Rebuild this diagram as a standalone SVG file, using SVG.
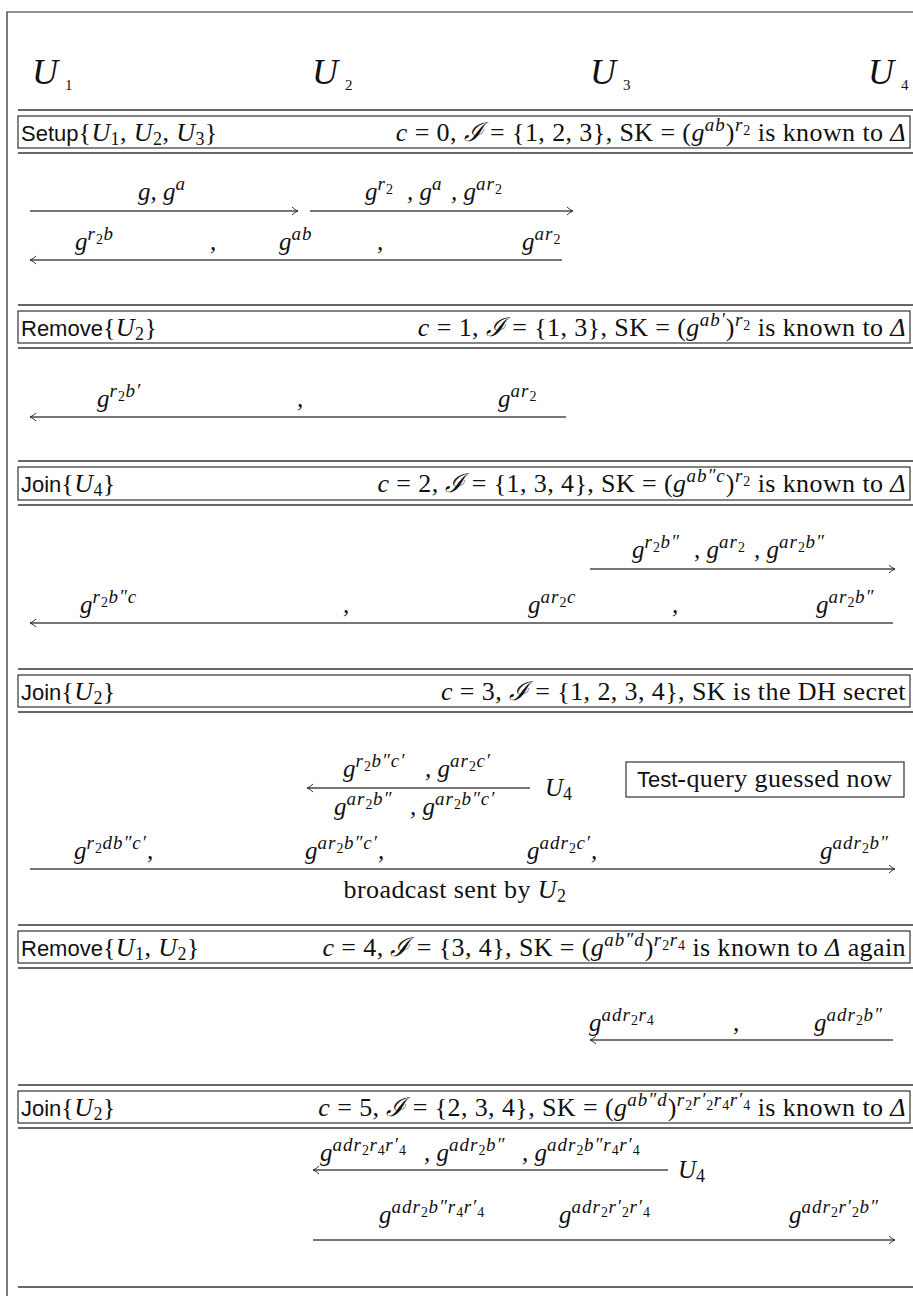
<svg xmlns="http://www.w3.org/2000/svg" width="913" height="1296" viewBox="0 0 913 1296">
<style>
.bg{fill:#fff}
.frame{fill:none;stroke:#222;stroke-width:1.2}
.rule{stroke:#333;stroke-width:1.4}
.box{fill:none;stroke:#333;stroke-width:1.2}
.arr{stroke:#4a4a4a;stroke-width:1.6;fill:none}
text{font-family:"Liberation Serif","DejaVu Serif",serif;font-size:25px;fill:#111}
.m{font-style:italic}
.i{font-style:italic}
.bn{font-size:26px;letter-spacing:0.4px}
.sf{font-family:"Liberation Sans","DejaVu Sans",sans-serif;font-style:normal;font-size:22px;letter-spacing:0}
.s{font-size:19px;letter-spacing:1px}
.ss{font-size:14px;font-style:normal;letter-spacing:0.5px}
.sd{font-size:18px;font-style:normal}
.big{font-size:36px;font-style:italic}
.bsub{font-size:15px;font-style:normal}
.r{text-anchor:end}
.c{text-anchor:middle}
</style>
<defs>
<marker id="ah" markerWidth="10" markerHeight="10" refX="7" refY="5" orient="auto-start-reverse" markerUnits="userSpaceOnUse">
<path d="M1,1 Q4,4 7,5 Q4,6 1,9" fill="none" stroke="#333" stroke-width="1"/>
</marker>
</defs>
<rect class="bg" x="0" y="0" width="913" height="1296"/>
<path class="frame" d="M7,1296 V12 H913"/>

<g id="participants">
<text class="big" x="32" y="84">U<tspan class="bsub" dx="7" dy="6">1</tspan></text>
<text class="big" x="312" y="84">U<tspan class="bsub" dx="7" dy="6">2</tspan></text>
<text class="big" x="590" y="84">U<tspan class="bsub" dx="7" dy="6">3</tspan></text>
<text class="big" x="868" y="84">U<tspan class="bsub" dx="7" dy="6">4</tspan></text>
</g>

<g id="banner-setup">
<line class="rule" x1="18" y1="110" x2="913" y2="110"/>
<rect class="box" x="18" y="116" width="892" height="32"/>
<line class="rule" x1="18" y1="153" x2="913" y2="153"/>
<text class="bn" x="21" y="141"><tspan class="sf">Setup</tspan>{<tspan class="i">U</tspan><tspan class="sd" dy="4">1</tspan><tspan dy="-4">, </tspan><tspan class="i">U</tspan><tspan class="sd" dy="4">2</tspan><tspan dy="-4">, </tspan><tspan class="i">U</tspan><tspan class="sd" dy="4">3</tspan><tspan dy="-4">}</tspan></text>
<text class="bn r" x="906" y="141"><tspan class="i">c</tspan> = 0, <tspan class="i">ℐ</tspan> = {1, 2, 3}, SK = (<tspan class="i">g</tspan><tspan class="s i" dy="-10">ab</tspan><tspan dy="10">)</tspan><tspan class="s i" dy="-10">r</tspan><tspan class="ss" dy="4">2</tspan><tspan dy="6"> is known to </tspan><tspan class="i">Δ</tspan></text>
</g>

<g id="banner-remove1">
<line class="rule" x1="18" y1="305" x2="913" y2="305"/>
<rect class="box" x="18" y="311" width="892" height="32"/>
<line class="rule" x1="18" y1="348" x2="913" y2="348"/>
<text class="bn" x="21" y="336"><tspan class="sf">Remove</tspan>{<tspan class="i">U</tspan><tspan class="sd" dy="4">2</tspan><tspan dy="-4">}</tspan></text>
<text class="bn r" x="906" y="336"><tspan class="i">c</tspan> = 1, <tspan class="i">ℐ</tspan> = {1, 3}, SK = (<tspan class="i">g</tspan><tspan class="s i" dy="-10">ab′</tspan><tspan dy="10">)</tspan><tspan class="s i" dy="-10">r</tspan><tspan class="ss" dy="4">2</tspan><tspan dy="6"> is known to </tspan><tspan class="i">Δ</tspan></text>
</g>

<g id="banner-join4">
<line class="rule" x1="18" y1="461" x2="913" y2="461"/>
<rect class="box" x="18" y="467" width="892" height="33"/>
<line class="rule" x1="18" y1="505" x2="913" y2="505"/>
<text class="bn" x="21" y="492"><tspan class="sf">Join</tspan>{<tspan class="i">U</tspan><tspan class="sd" dy="4">4</tspan><tspan dy="-4">}</tspan></text>
<text class="bn r" x="906" y="492"><tspan class="i">c</tspan> = 2, <tspan class="i">ℐ</tspan> = {1, 3, 4}, SK = (<tspan class="i">g</tspan><tspan class="s i" dy="-10">ab″c</tspan><tspan dy="10">)</tspan><tspan class="s i" dy="-10">r</tspan><tspan class="ss" dy="4">2</tspan><tspan dy="6"> is known to </tspan><tspan class="i">Δ</tspan></text>
</g>

<g id="banner-join2a">
<line class="rule" x1="18" y1="669" x2="913" y2="669"/>
<rect class="box" x="18" y="675" width="892" height="32"/>
<line class="rule" x1="18" y1="712" x2="913" y2="712"/>
<text class="bn" x="21" y="700"><tspan class="sf">Join</tspan>{<tspan class="i">U</tspan><tspan class="sd" dy="4">2</tspan><tspan dy="-4">}</tspan></text>
<text class="bn r" x="906" y="700"><tspan class="i">c</tspan> = 3, <tspan class="i">ℐ</tspan> = {1, 2, 3, 4}, SK is the DH secret</text>
</g>

<g id="banner-remove12">
<line class="rule" x1="18" y1="925" x2="913" y2="925"/>
<rect class="box" x="18" y="931" width="892" height="32"/>
<line class="rule" x1="18" y1="968" x2="913" y2="968"/>
<text class="bn" x="21" y="956"><tspan class="sf">Remove</tspan>{<tspan class="i">U</tspan><tspan class="sd" dy="4">1</tspan><tspan dy="-4">, </tspan><tspan class="i">U</tspan><tspan class="sd" dy="4">2</tspan><tspan dy="-4">}</tspan></text>
<text class="bn r" x="906" y="956"><tspan class="i">c</tspan> = 4, <tspan class="i">ℐ</tspan> = {3, 4}, SK = (<tspan class="i">g</tspan><tspan class="s i" dy="-10">ab″d</tspan><tspan dy="10">)</tspan><tspan class="s i" dy="-10">r</tspan><tspan class="ss" dy="4">2</tspan><tspan class="s i" dy="-4">r</tspan><tspan class="ss" dy="4">4</tspan><tspan dy="6"> is known to </tspan><tspan class="i">Δ</tspan> again</text>
</g>

<g id="banner-join2b">
<line class="rule" x1="18" y1="1085" x2="913" y2="1085"/>
<rect class="box" x="18" y="1091" width="892" height="32"/>
<line class="rule" x1="18" y1="1128" x2="913" y2="1128"/>
<text class="bn" x="21" y="1116"><tspan class="sf">Join</tspan>{<tspan class="i">U</tspan><tspan class="sd" dy="4">2</tspan><tspan dy="-4">}</tspan></text>
<text class="bn r" x="906" y="1116"><tspan class="i">c</tspan> = 5, <tspan class="i">ℐ</tspan> = {2, 3, 4}, SK = (<tspan class="i">g</tspan><tspan class="s i" dy="-10">ab″d</tspan><tspan dy="10">)</tspan><tspan class="s i" dy="-10">r</tspan><tspan class="ss" dy="4">2</tspan><tspan class="s i" dy="-4">r′</tspan><tspan class="ss" dy="4">2</tspan><tspan class="s i" dy="-4">r</tspan><tspan class="ss" dy="4">4</tspan><tspan class="s i" dy="-4">r′</tspan><tspan class="ss" dy="4">4</tspan><tspan dy="6"> is known to </tspan><tspan class="i">Δ</tspan></text>
</g>

<line class="rule" x1="18" y1="1287" x2="913" y2="1287"/>

<g id="connectors">
<line class="arr" x1="30" y1="211" x2="298" y2="211" marker-end="url(#ah)"/>
<line class="arr" x1="310" y1="211" x2="573" y2="211" marker-end="url(#ah)"/>
<line class="arr" x1="562" y1="260" x2="30" y2="260" marker-end="url(#ah)"/>
<line class="arr" x1="566" y1="417" x2="30" y2="417" marker-end="url(#ah)"/>
<line class="arr" x1="590" y1="569" x2="895" y2="569" marker-end="url(#ah)"/>
<line class="arr" x1="893" y1="623" x2="30" y2="623" marker-end="url(#ah)"/>
<line class="arr" x1="530" y1="788" x2="307" y2="788" marker-end="url(#ah)"/>
<line class="arr" x1="30" y1="869" x2="895" y2="869" marker-end="url(#ah)"/>
<line class="arr" x1="893" y1="1040" x2="590" y2="1040" marker-end="url(#ah)"/>
<line class="arr" x1="668" y1="1170" x2="313" y2="1170" marker-end="url(#ah)"/>
<line class="arr" x1="313" y1="1240" x2="895" y2="1240" marker-end="url(#ah)"/>
</g>

<g id="labels-setup">
<text class="m" x="138" y="200">g, g<tspan class="s" dy="-10">a</tspan></text>
<text class="m" x="365" y="200">g<tspan class="s" dy="-10">r</tspan><tspan class="ss" dy="4">2</tspan></text>
<text class="m" x="407" y="200">, g<tspan class="s" dy="-10">a</tspan></text>
<text class="m" x="451" y="200">, g<tspan class="s" dy="-10">ar</tspan><tspan class="ss" dy="4">2</tspan></text>
<text class="m" x="75" y="250">g<tspan class="s" dy="-10">r</tspan><tspan class="ss" dy="4">2</tspan><tspan class="s" dy="-4">b</tspan></text>
<text class="m" x="210" y="250">,</text>
<text class="m" x="279" y="250">g<tspan class="s" dy="-10">ab</tspan></text>
<text class="m" x="377" y="250">,</text>
<text class="m" x="522" y="250">g<tspan class="s" dy="-10">ar</tspan><tspan class="ss" dy="4">2</tspan></text>
</g>

<g id="labels-remove1">
<text class="m" x="97" y="407">g<tspan class="s" dy="-10">r</tspan><tspan class="ss" dy="4">2</tspan><tspan class="s" dy="-4">b′</tspan></text>
<text class="m" x="297" y="407">,</text>
<text class="m" x="498" y="407">g<tspan class="s" dy="-10">ar</tspan><tspan class="ss" dy="4">2</tspan></text>
</g>

<g id="labels-join4">
<text class="m" x="632" y="558">g<tspan class="s" dy="-10">r</tspan><tspan class="ss" dy="4">2</tspan><tspan class="s" dy="-4">b″</tspan></text>
<text class="m" x="694" y="558">, g<tspan class="s" dy="-10">ar</tspan><tspan class="ss" dy="4">2</tspan></text>
<text class="m" x="754" y="558">, g<tspan class="s" dy="-10">ar</tspan><tspan class="ss" dy="4">2</tspan><tspan class="s" dy="-4">b″</tspan></text>
<text class="m" x="80" y="613">g<tspan class="s" dy="-10">r</tspan><tspan class="ss" dy="4">2</tspan><tspan class="s" dy="-4">b″c</tspan></text>
<text class="m" x="343" y="613">,</text>
<text class="m" x="528" y="613">g<tspan class="s" dy="-10">ar</tspan><tspan class="ss" dy="4">2</tspan><tspan class="s" dy="-4">c</tspan></text>
<text class="m" x="672" y="613">,</text>
<text class="m" x="816" y="613">g<tspan class="s" dy="-10">ar</tspan><tspan class="ss" dy="4">2</tspan><tspan class="s" dy="-4">b″</tspan></text>
</g>

<g id="labels-join2a">
<text class="m" x="343" y="777">g<tspan class="s" dy="-10">r</tspan><tspan class="ss" dy="4">2</tspan><tspan class="s" dy="-4">b″c′</tspan></text>
<text class="m" x="425" y="777">, g<tspan class="s" dy="-10">ar</tspan><tspan class="ss" dy="4">2</tspan><tspan class="s" dy="-4">c′</tspan></text>
<text class="m" x="334" y="815">g<tspan class="s" dy="-10">ar</tspan><tspan class="ss" dy="4">2</tspan><tspan class="s" dy="-4">b″</tspan></text>
<text class="m" x="410" y="815">, g<tspan class="s" dy="-10">ar</tspan><tspan class="ss" dy="4">2</tspan><tspan class="s" dy="-4">b″c′</tspan></text>
<text class="m" x="545" y="796">U<tspan class="sd" dy="4">4</tspan></text>
<rect class="box" x="626" y="762" width="278" height="35"/>
<text class="bn" x="637" y="787"><tspan class="sf">Test</tspan>-query guessed now</text>
<text class="m" x="74" y="859">g<tspan class="s" dy="-10">r</tspan><tspan class="ss" dy="4">2</tspan><tspan class="s" dy="-4">db″c′</tspan><tspan dy="10">,</tspan></text>
<text class="m" x="305" y="859">g<tspan class="s" dy="-10">ar</tspan><tspan class="ss" dy="4">2</tspan><tspan class="s" dy="-4">b″c′</tspan><tspan dy="10">,</tspan></text>
<text class="m" x="527" y="859">g<tspan class="s" dy="-10">adr</tspan><tspan class="ss" dy="4">2</tspan><tspan class="s" dy="-4">c′</tspan><tspan dy="10">,</tspan></text>
<text class="m" x="820" y="859">g<tspan class="s" dy="-10">adr</tspan><tspan class="ss" dy="4">2</tspan><tspan class="s" dy="-4">b″</tspan></text>
<text class="bn c" x="455" y="898">broadcast sent by <tspan class="i">U</tspan><tspan class="sd" dy="4">2</tspan></text>
</g>

<g id="labels-remove12">
<text class="m" x="589" y="1031">g<tspan class="s" dy="-10">adr</tspan><tspan class="ss" dy="4">2</tspan><tspan class="s" dy="-4">r</tspan><tspan class="ss" dy="4">4</tspan></text>
<text class="m" x="733" y="1031">,</text>
<text class="m" x="814" y="1031">g<tspan class="s" dy="-10">adr</tspan><tspan class="ss" dy="4">2</tspan><tspan class="s" dy="-4">b″</tspan></text>
</g>

<g id="labels-join2b">
<text class="m" x="320" y="1161">g<tspan class="s" dy="-10">adr</tspan><tspan class="ss" dy="4">2</tspan><tspan class="s" dy="-4">r</tspan><tspan class="ss" dy="4">4</tspan><tspan class="s" dy="-4">r′</tspan><tspan class="ss" dy="4">4</tspan></text>
<text class="m" x="424" y="1161">, g<tspan class="s" dy="-10">adr</tspan><tspan class="ss" dy="4">2</tspan><tspan class="s" dy="-4">b″</tspan></text>
<text class="m" x="522" y="1161">, g<tspan class="s" dy="-10">adr</tspan><tspan class="ss" dy="4">2</tspan><tspan class="s" dy="-4">b″r</tspan><tspan class="ss" dy="4">4</tspan><tspan class="s" dy="-4">r′</tspan><tspan class="ss" dy="4">4</tspan></text>
<text class="m" x="678" y="1178">U<tspan class="sd" dy="4">4</tspan></text>
<text class="m" x="379" y="1223">g<tspan class="s" dy="-10">adr</tspan><tspan class="ss" dy="4">2</tspan><tspan class="s" dy="-4">b″r</tspan><tspan class="ss" dy="4">4</tspan><tspan class="s" dy="-4">r′</tspan><tspan class="ss" dy="4">4</tspan></text>
<text class="m" x="559" y="1223">g<tspan class="s" dy="-10">adr</tspan><tspan class="ss" dy="4">2</tspan><tspan class="s" dy="-4">r′</tspan><tspan class="ss" dy="4">2</tspan><tspan class="s" dy="-4">r′</tspan><tspan class="ss" dy="4">4</tspan></text>
<text class="m" x="789" y="1223">g<tspan class="s" dy="-10">adr</tspan><tspan class="ss" dy="4">2</tspan><tspan class="s" dy="-4">r′</tspan><tspan class="ss" dy="4">2</tspan><tspan class="s" dy="-4">b″</tspan></text>
</g>
</svg>
